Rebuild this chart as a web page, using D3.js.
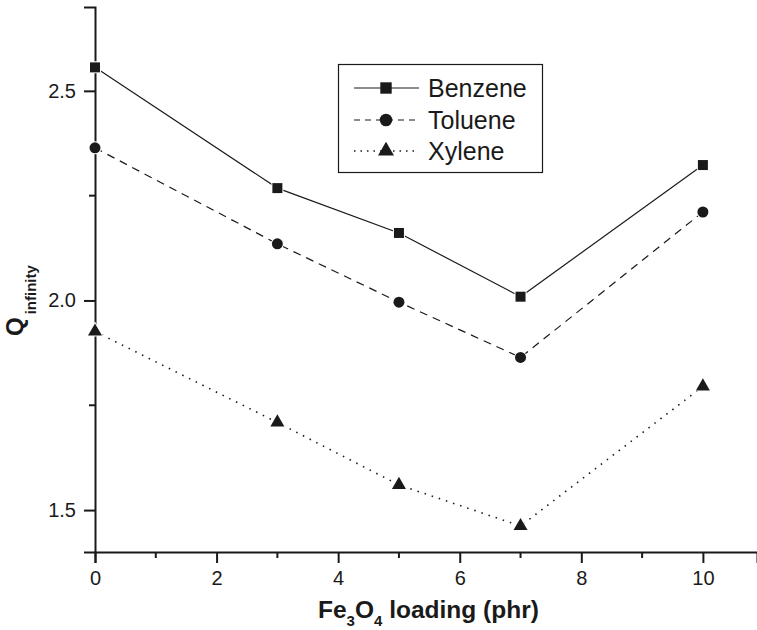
<!DOCTYPE html>
<html>
<head>
<meta charset="utf-8">
<script src="https://cdn.jsdelivr.net/npm/d3@7"></script>
<style>
  body { margin: 0; background: #fff; }
  svg { font-family: "Liberation Sans", Arial, sans-serif; }
</style>
</head>
<body>
<svg width="757" height="630"></svg>
<script>
// data
const loading = [0, 3, 5, 7, 10];
const benzene = [2.556, 2.268, 2.161, 2.009, 2.323];
const toluene = [2.364, 2.135, 1.996, 1.864, 2.211];
const xylene = [1.926, 1.709, 1.560, 1.462, 1.795];
const seriesNames = ["Benzene", "Toluene", "Xylene"];
const xTicks = [0, 2, 4, 6, 8, 10];
const xMinor = [1, 3, 5, 7, 9];
const yTicks = [1.5, 2.0, 2.5];
const yMinor = [1.75, 2.25];

const svg = d3.select("svg");
const ink = "#1a1a1a";

// plot area
const plotL = 95, plotR = 757, plotT = 7, plotB = 552;
const x = d3.scaleLinear().domain([0, 10.89]).range([plotL, plotR]);
const y = d3.scaleLinear().domain([1.4, 2.7]).range([plotB, plotT]);

// series setup: dash style + marker shape
const series = [
  { name: seriesNames[0], values: benzene, dash: null, symbol: d3.symbolSquare, size: 100 },
  { name: seriesNames[1], values: toluene, dash: "8,6", symbol: d3.symbolCircle, size: 95 },
  { name: seriesNames[2], values: xylene, dash: "1.5,6", symbol: d3.symbolTriangle, size: 85 }
];

// axes (ticks outward, major + minor)
const xAxis = svg.append("g").attr("transform", `translate(0,${plotB})`)
  .call(d3.axisBottom(x).tickValues(xTicks).tickSize(11).tickPadding(8).tickFormat(d3.format("d")));
xAxis.append("g").selectAll("line").data(xMinor).enter().append("line")
  .attr("x1", d => x(d)).attr("x2", d => x(d)).attr("y1", 0).attr("y2", 6);

const yAxis = svg.append("g").attr("transform", `translate(${plotL},0)`)
  .call(d3.axisLeft(y).tickValues(yTicks).tickSize(11).tickPadding(6).tickFormat(d3.format(".1f")));
yAxis.append("g").selectAll("line").data(yMinor).enter().append("line")
  .attr("y1", d => y(d)).attr("y2", d => y(d)).attr("x1", 0).attr("x2", -6);

[xAxis, yAxis].forEach(a => {
  a.select(".domain").attr("stroke", ink).attr("stroke-width", 2);
  a.selectAll("line").attr("stroke", ink).attr("stroke-width", 2);
  a.selectAll("text").attr("font-size", 20).attr("fill", ink)
    .attr("font-family", "'Liberation Sans', Arial, sans-serif");
});
yAxis.selectAll(".tick text").attr("dx", -2);

// lines
const line = d3.line().x((d, i) => x(loading[i])).y(d => y(d));
series.forEach(s => {
  svg.append("path")
    .datum(s.values)
    .attr("d", line)
    .attr("fill", "none")
    .attr("stroke", ink)
    .attr("stroke-width", s.dash === "1.5,6" ? 1.6 : 1.2)
    .attr("stroke-dasharray", s.dash);
});

// markers
series.forEach(s => {
  svg.append("g").selectAll("path").data(s.values).enter().append("path")
    .attr("d", d3.symbol().type(s.symbol).size(s.size))
    .attr("transform", (d, i) => `translate(${x(loading[i])},${y(d)})`)
    .attr("fill", ink)
    .attr("stroke", "#fff")
    .attr("stroke-width", 2)
    .attr("paint-order", "stroke");
});

// legend
const legend = svg.append("g");
legend.append("rect")
  .attr("x", 338.5).attr("y", 64.5).attr("width", 204).attr("height", 108)
  .attr("fill", "#fff").attr("stroke", ink).attr("stroke-width", 1.2);
const rowY = [88, 120, 151];
series.forEach((s, i) => {
  legend.append("line")
    .attr("x1", 354).attr("x2", 419).attr("y1", rowY[i]).attr("y2", rowY[i])
    .attr("stroke", ink)
    .attr("stroke-width", s.dash === "1.5,6" ? 1.6 : 1.2)
    .attr("stroke-dasharray", s.dash === null ? null : (s.dash === "8,6" ? "6,5" : "1.5,5"));
  legend.append("path")
    .attr("d", d3.symbol().type(s.symbol).size(s.size * 1.3)())
    .attr("transform", `translate(386,${rowY[i]})`)
    .attr("fill", ink);
  legend.append("text")
    .attr("x", 428).attr("y", rowY[i] + 9)
    .attr("font-size", 25).attr("fill", ink)
    .text(s.name);
});

// x axis title
const xt = svg.append("text")
  .attr("x", 318).attr("y", 618)
  .attr("font-size", 24.5).attr("font-weight", "bold").attr("fill", ink);
xt.append("tspan").text("Fe");
xt.append("tspan").attr("font-size", 15).attr("dy", 8).text("3");
xt.append("tspan").attr("dy", -8).text("O");
xt.append("tspan").attr("font-size", 15).attr("dy", 8).text("4");
xt.append("tspan").attr("dy", -8).text(" loading (phr)");

// y axis title
const yt = svg.append("text")
  .attr("transform", "translate(23,336) rotate(-90)")
  .attr("font-weight", "bold").attr("fill", ink);
yt.append("tspan").attr("font-size", 24).text("Q");
yt.append("tspan").attr("font-size", 15).attr("dx", 3).attr("dy", 13).text("infinity");
</script>
</body>
</html>
